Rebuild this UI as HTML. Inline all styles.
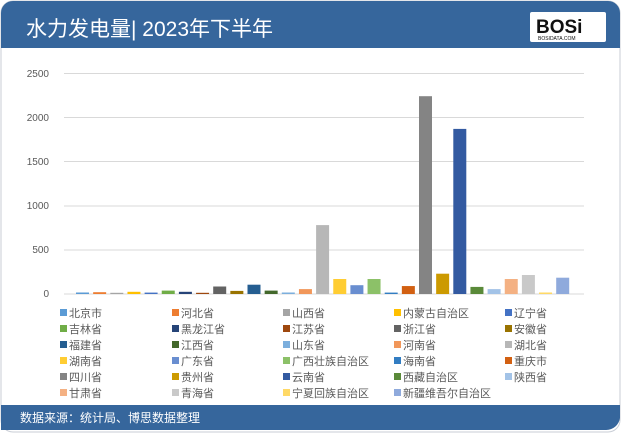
<!DOCTYPE html>
<html><head><meta charset="utf-8"><style>
body{margin:0;width:622px;height:435px;background:#fff;overflow:hidden;font-family:"Liberation Sans","Noto Sans CJK SC",sans-serif;}
</style></head><body>
<svg width="622" height="435" xmlns="http://www.w3.org/2000/svg" font-family="Liberation Sans, Noto Sans CJK SC, sans-serif">
<rect x="1" y="1" width="619" height="431" rx="12" fill="#fff" stroke="#c9ced6"/>
<path d="M1 13 A12 12 0 0 1 13 1 H608 A12 12 0 0 1 620 13 V48 H1 Z" fill="#36669c"/>
<text x="26" y="36" font-size="21" fill="#fff">水力发电量| 2023年下半年</text>
<rect x="530" y="12" width="76" height="30" fill="#fff" rx="2"/>
<text x="536" y="33" font-size="19" font-weight="bold" fill="#111">BOSi</text>
<text x="538" y="40" font-size="5" fill="#111">BOSIDATA.COM</text>
<path d="M1 405 H620 V418 A14 14 0 0 1 606 430 H1 Z" fill="#36669c"/>
<text x="20" y="422" font-size="12" fill="#fff">数据来源：统计局、博思数据整理</text>
<g stroke="#d9d9d9" stroke-width="1">
<line x1="64" x2="584" y1="73.5" y2="73.5"/><line x1="64" x2="584" y1="117.5" y2="117.5"/><line x1="64" x2="584" y1="161.5" y2="161.5"/><line x1="64" x2="584" y1="206" y2="206"/><line x1="64" x2="584" y1="250" y2="250"/><line x1="64" x2="584" y1="294" y2="294"/>
</g>
<g font-size="10" fill="#595959" text-anchor="end">
<text x="49" y="77">2500</text><text x="49" y="121">2000</text><text x="49" y="165">1500</text><text x="49" y="209">1000</text><text x="49" y="253">500</text><text x="49" y="297">0</text>
</g>
<g>
<rect x="76" y="292.5" width="13" height="1.5" fill="#5b9bd5"/>
<rect x="93.15" y="292.2" width="13" height="1.8" fill="#ed7d31"/>
<rect x="110.3" y="292.8" width="13" height="1.2" fill="#a5a5a5"/>
<rect x="127.45" y="291.8" width="13" height="2.2" fill="#ffc000"/>
<rect x="144.6" y="292.6" width="13" height="1.4" fill="#4472c4"/>
<rect x="161.75" y="290.6" width="13" height="3.4" fill="#70ad47"/>
<rect x="178.9" y="291.8" width="13" height="2.2" fill="#264478"/>
<rect x="196.05" y="292.8" width="13" height="1.2" fill="#9e480e"/>
<rect x="213.2" y="286.5" width="13" height="7.5" fill="#636363"/>
<rect x="230.35" y="290.9" width="13" height="3.1" fill="#997300"/>
<rect x="247.5" y="284.7" width="13" height="9.3" fill="#255e91"/>
<rect x="264.65" y="290.6" width="13" height="3.4" fill="#43682b"/>
<rect x="281.8" y="292.5" width="13" height="1.5" fill="#7cafdd"/>
<rect x="298.95" y="289.1" width="13" height="4.9" fill="#f1975a"/>
<rect x="316.1" y="225.1" width="13" height="68.9" fill="#b7b7b7"/>
<rect x="333.25" y="279" width="13" height="15" fill="#ffcd33"/>
<rect x="350.4" y="285.2" width="13" height="8.8" fill="#698ed0"/>
<rect x="367.55" y="279" width="13" height="15" fill="#8cc168"/>
<rect x="384.7" y="292.6" width="13" height="1.4" fill="#327dc2"/>
<rect x="401.85" y="286.05" width="13" height="7.95" fill="#d26012"/>
<rect x="419" y="96.2" width="13" height="197.8" fill="#848484"/>
<rect x="436.15" y="273.7" width="13" height="20.3" fill="#cc9a00"/>
<rect x="453.3" y="128.9" width="13" height="165.1" fill="#335aa1"/>
<rect x="470.45" y="286.9" width="13" height="7.1" fill="#5a8a39"/>
<rect x="487.6" y="289.1" width="13" height="4.9" fill="#a3c3e7"/>
<rect x="504.75" y="279" width="13" height="15" fill="#f4b183"/>
<rect x="521.9" y="275" width="13" height="19" fill="#c9c9c9"/>
<rect x="539.05" y="292.5" width="13" height="1.5" fill="#ffd966"/>
<rect x="556.2" y="277.7" width="13" height="16.3" fill="#8faadc"/>
</g>
<g font-size="11" fill="#595959">
<rect x="60" y="309" width="7" height="7" fill="#5b9bd5"/><text x="69" y="317">北京市</text>
<rect x="172" y="309" width="7" height="7" fill="#ed7d31"/><text x="181" y="317">河北省</text>
<rect x="283" y="309" width="7" height="7" fill="#a5a5a5"/><text x="292" y="317">山西省</text>
<rect x="394" y="309" width="7" height="7" fill="#ffc000"/><text x="403" y="317">内蒙古自治区</text>
<rect x="505" y="309" width="7" height="7" fill="#4472c4"/><text x="514" y="317">辽宁省</text>
<rect x="60" y="325" width="7" height="7" fill="#70ad47"/><text x="69" y="333">吉林省</text>
<rect x="172" y="325" width="7" height="7" fill="#264478"/><text x="181" y="333">黑龙江省</text>
<rect x="283" y="325" width="7" height="7" fill="#9e480e"/><text x="292" y="333">江苏省</text>
<rect x="394" y="325" width="7" height="7" fill="#636363"/><text x="403" y="333">浙江省</text>
<rect x="505" y="325" width="7" height="7" fill="#997300"/><text x="514" y="333">安徽省</text>
<rect x="60" y="341" width="7" height="7" fill="#255e91"/><text x="69" y="349">福建省</text>
<rect x="172" y="341" width="7" height="7" fill="#43682b"/><text x="181" y="349">江西省</text>
<rect x="283" y="341" width="7" height="7" fill="#7cafdd"/><text x="292" y="349">山东省</text>
<rect x="394" y="341" width="7" height="7" fill="#f1975a"/><text x="403" y="349">河南省</text>
<rect x="505" y="341" width="7" height="7" fill="#b7b7b7"/><text x="514" y="349">湖北省</text>
<rect x="60" y="357" width="7" height="7" fill="#ffcd33"/><text x="69" y="365">湖南省</text>
<rect x="172" y="357" width="7" height="7" fill="#698ed0"/><text x="181" y="365">广东省</text>
<rect x="283" y="357" width="7" height="7" fill="#8cc168"/><text x="292" y="365">广西壮族自治区</text>
<rect x="394" y="357" width="7" height="7" fill="#327dc2"/><text x="403" y="365">海南省</text>
<rect x="505" y="357" width="7" height="7" fill="#d26012"/><text x="514" y="365">重庆市</text>
<rect x="60" y="373" width="7" height="7" fill="#848484"/><text x="69" y="381">四川省</text>
<rect x="172" y="373" width="7" height="7" fill="#cc9a00"/><text x="181" y="381">贵州省</text>
<rect x="283" y="373" width="7" height="7" fill="#335aa1"/><text x="292" y="381">云南省</text>
<rect x="394" y="373" width="7" height="7" fill="#5a8a39"/><text x="403" y="381">西藏自治区</text>
<rect x="505" y="373" width="7" height="7" fill="#a3c3e7"/><text x="514" y="381">陕西省</text>
<rect x="60" y="389" width="7" height="7" fill="#f4b183"/><text x="69" y="397">甘肃省</text>
<rect x="172" y="389" width="7" height="7" fill="#c9c9c9"/><text x="181" y="397">青海省</text>
<rect x="283" y="389" width="7" height="7" fill="#ffd966"/><text x="292" y="397">宁夏回族自治区</text>
<rect x="394" y="389" width="7" height="7" fill="#8faadc"/><text x="403" y="397">新疆维吾尔自治区</text>
</g>
</svg>
</body></html>
